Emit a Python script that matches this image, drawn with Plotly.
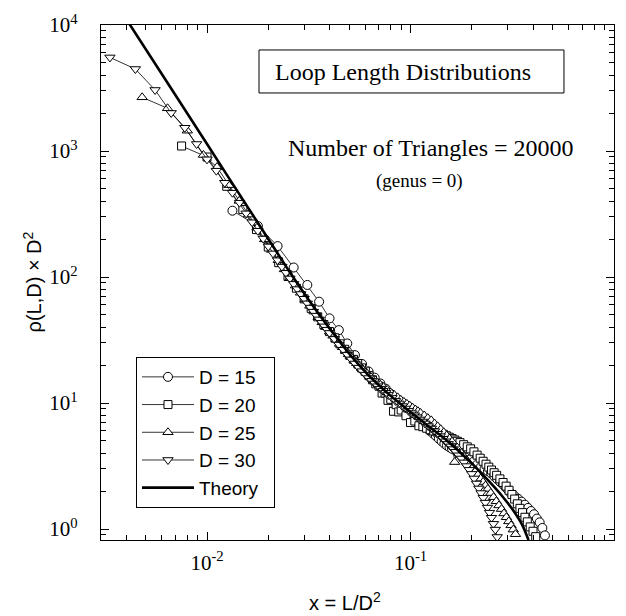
import plotly.graph_objects as go

# Loop lengths L sampled for each lattice distance D (x = L / D^2)
L_15 = list(range(3, 37)) + list(range(38, 71, 2)) + list(range(73, 104, 3))
L_20 = (list(range(3, 37)) + list(range(38, 71, 2)) + list(range(73, 107, 3))
        + list(range(110, 151, 4)) + list(range(155, 166, 5)))
L_25 = (list(range(3, 37)) + list(range(38, 71, 2)) + list(range(73, 107, 3))
        + list(range(110, 151, 4)) + list(range(155, 206, 5)))
L_30 = (list(range(3, 37)) + list(range(38, 71, 2)) + list(range(73, 107, 3))
        + list(range(110, 151, 4)) + list(range(155, 241, 5)))

# rho(L, D) * D^2
rho_15 = [336, 254, 176, 119, 86.5, 63.7, 47.0, 37.9, 29.7, 24.0, 20.4, 17.8, 15.9, 14.3,
          13.0, 11.8, 11.0, 10.3, 9.40, 8.73, 8.05, 7.64, 7.16, 6.75, 6.45, 6.01, 5.74, 5.47,
          5.21, 4.97, 4.76, 4.59, 4.45, 4.33,
          4.09, 3.89, 3.69, 3.56, 3.43, 3.27, 3.13, 3.00, 2.88, 2.77, 2.62, 2.49, 2.37, 2.26,
          2.14, 2.04, 1.92,
          1.83, 1.74, 1.65, 1.56, 1.47, 1.39, 1.31, 1.21, 1.13, 1.02, 0.89]
rho_20 = [1096, 896, 525, 343, 238, 173, 130, 101, 81.5, 67.1, 56.4, 48.3, 42.0, 36.9,
          32.9, 29.5, 26.7, 24.1, 22.2, 20.6, 19.0, 17.9, 16.5, 15.3, 14.2, 13.6, 12.0, 12.0,
          10.5, 10.7, 8.6, 9.7, 8.5, 8.8,
          7.93, 7.0, 7.2, 6.6, 6.49, 6.31, 6.14, 6.00, 5.89, 5.78, 5.65, 5.50, 5.36, 5.22,
          5.09, 4.97, 4.85,
          4.67, 4.49, 4.33, 4.10, 3.86, 3.65, 3.45, 3.27, 3.10, 2.94, 2.80, 2.67,
          2.50, 2.34, 2.19, 2.03, 1.88, 1.73, 1.585, 1.46, 1.35, 1.24, 1.14,
          1.04, 0.96, 0.87]
rho_25 = [2668, 2183, 1449, 930, 745, 536, 402, 313, 246, 199, 164, 136, 115, 98.9,
          85.5, 75.0, 66.4, 59.1, 53.2, 48.0, 43.7, 40.0, 36.9, 34.2, 31.7, 29.5, 27.7, 25.9,
          24.4, 23.1, 21.9, 20.7, 19.7, 18.9,
          17.3, 16.0, 15.1, 14.2, 13.4, 12.7, 12.1, 11.6, 11.1, 10.6, 10.2, 9.84, 9.51, 9.18,
          8.87, 8.61, 8.34,
          7.96, 7.59, 7.29, 6.87, 6.53, 6.19, 5.86, 5.53, 5.22, 4.94, 3.4, 4.43,
          4.09, 3.79, 3.52, 3.28, 3.05, 2.86, 2.69, 2.51, 2.36, 2.21, 2.08,
          1.93, 1.79, 1.66, 1.54, 1.44, 1.33, 1.24, 1.15, 1.07, 0.99, 0.91]
rho_30 = [5530, 4475, 3050, 2005, 1530, 1137, 859, 698, 560, 467, 389, 320, 272, 233,
          202, 175, 154, 136, 121, 108, 97.5, 88.2, 80.2, 73.3, 67.2, 61.8, 57.2, 53.1,
          49.4, 46.1, 43.3, 40.6, 38.2, 36.0,
          32.3, 29.1, 26.5, 24.2, 22.2, 20.6, 19.1, 17.9, 16.8, 15.8, 15.0, 14.3, 13.6, 13.0,
          12.5, 12.05, 11.6,
          10.98, 10.4, 9.93, 9.46, 9.05, 8.67, 8.32, 8.00, 7.71, 7.41, 7.14, 6.89,
          6.56, 6.28, 5.98, 5.71, 5.46, 5.21, 4.97, 4.74, 4.53, 4.31, 4.10,
          3.85, 3.63, 3.38, 3.16, 2.95, 2.74, 2.52, 2.30, 2.10, 1.93, 1.77, 1.62, 1.48,
          1.35, 1.23, 1.10, 0.99, 0.865]

# Theory curve
theory_x = [0.00398, 0.00631, 0.0100, 0.01585, 0.02512, 0.02818, 0.03162, 0.03548, 0.03981,
            0.04467, 0.05012, 0.05623, 0.06310, 0.07079, 0.07943, 0.08913, 0.1000, 0.1122,
            0.1259, 0.1413, 0.1585, 0.1778, 0.1995, 0.2239, 0.2512, 0.2818, 0.3162, 0.3548,
            0.3802]
theory_y = [11350, 3589, 1135, 358.9, 113.5, 86.1, 65.8, 50.7, 39.4, 31.0, 24.5, 19.8, 16.2,
            13.6, 11.5, 9.86, 8.47, 7.33, 6.32, 5.50, 4.70, 3.98, 3.33, 2.75, 2.26, 1.83,
            1.44, 1.07, 0.818]

x_tick_vals = [0.01, 0.1, 1]
x_tick_text = ["10<sup>-2</sup>", "10<sup>-1</sup>", "10<sup>0</sup>"]
y_tick_vals = [1, 10, 100, 1000, 10000]
y_tick_text = ["10<sup>0</sup>", "10<sup>1</sup>", "10<sup>2</sup>", "10<sup>3</sup>",
               "10<sup>4</sup>"]

series = [
    ("D = 15", 15, L_15, rho_15, "circle", 9),
    ("D = 20", 20, L_20, rho_20, "square", 8),
    ("D = 25", 25, L_25, rho_25, "triangle-up", 9),
    ("D = 30", 30, L_30, rho_30, "triangle-down", 9),
]

SERIF = "Liberation Serif, Times New Roman, serif"
SANS = "Liberation Sans, Arial, sans-serif"
PAD = "\u00a0" * 2

fig = go.Figure()
for name, d, lengths, rho, symbol, size in series:
    fig.add_trace(go.Scatter(
        x=[l / d ** 2 for l in lengths], y=rho, name=name + PAD,
        mode="lines+markers",
        line=dict(color="black", width=0.8),
        marker=dict(symbol=symbol, size=size, color="white",
                    line=dict(color="black", width=1)),
    ))

fig.add_trace(go.Scatter(
    x=theory_x, y=theory_y, name="Theory" + PAD, mode="lines",
    line=dict(color="black", width=2.6, shape="spline", smoothing=0.6),
))

minor_x = [m * 10.0 ** e for e in range(-3, 0) for m in range(2, 10)]
minor_y = [m * 10.0 ** e for e in range(-1, 4) for m in range(2, 10)]

axis_common = dict(
    showline=True, linecolor="black", linewidth=1.2, mirror="ticks",
    ticks="inside", ticklen=8, tickwidth=1, tickcolor="black",
    showgrid=False, zeroline=False,
    tickfont=dict(family=SERIF, size=21, color="black"),
)

fig.update_xaxes(type="log", range=[-2.521, 0], tickvals=x_tick_vals, ticktext=x_tick_text,
                 minor=dict(tickvals=minor_x, ticks="inside", ticklen=5, tickcolor="black"),
                 ticklabelstandoff=4, **axis_common)
fig.update_yaxes(type="log", range=[-0.087, 4], tickvals=y_tick_vals, ticktext=y_tick_text,
                 minor=dict(tickvals=minor_y, ticks="inside", ticklen=5, tickcolor="black"),
                 ticklabelstandoff=18, **axis_common)

fig.add_shape(type="rect", xref="paper", yref="paper",
              x0=0.308, x1=0.9025, y0=0.868, y1=0.9515,
              line=dict(color="black", width=1), fillcolor="white", layer="below")

centered = dict(xref="paper", yref="paper", xanchor="center", yanchor="middle",
                showarrow=False)
fig.add_annotation(text="Loop Length Distributions", x=0.589, y=0.909,
                   font=dict(family=SERIF, size=24, color="black"), **centered)
fig.add_annotation(text="Number of Triangles = 20000", x=0.644, y=0.761,
                   font=dict(family=SERIF, size=24, color="black"), **centered)
fig.add_annotation(text="(genus = 0)", x=0.6205, y=0.697,
                   font=dict(family=SERIF, size=19, color="black"), **centered)
fig.add_annotation(text="ρ(L,D) × D<sup>2</sup>", x=-0.1345, y=0.5, textangle=-90,
                   font=dict(family=SANS, size=20, color="black"), **centered)
fig.add_annotation(text="x = L/D<sup>2</sup>", x=0.4756, y=-0.12,
                   font=dict(family=SANS, size=20, color="black"), **centered)

fig.update_layout(
    width=626, height=616,
    margin=dict(l=101, r=12, t=25, b=76, autoexpand=False),
    paper_bgcolor="white", plot_bgcolor="white",
    showlegend=True,
    legend=dict(x=0.0682, y=0.3553, xanchor="left", yanchor="top",
                bgcolor="white", bordercolor="black", borderwidth=1,
                font=dict(family=SANS, size=19, color="black"),
                itemwidth=52, tracegroupgap=0),
)

fig.write_html("out.html")
